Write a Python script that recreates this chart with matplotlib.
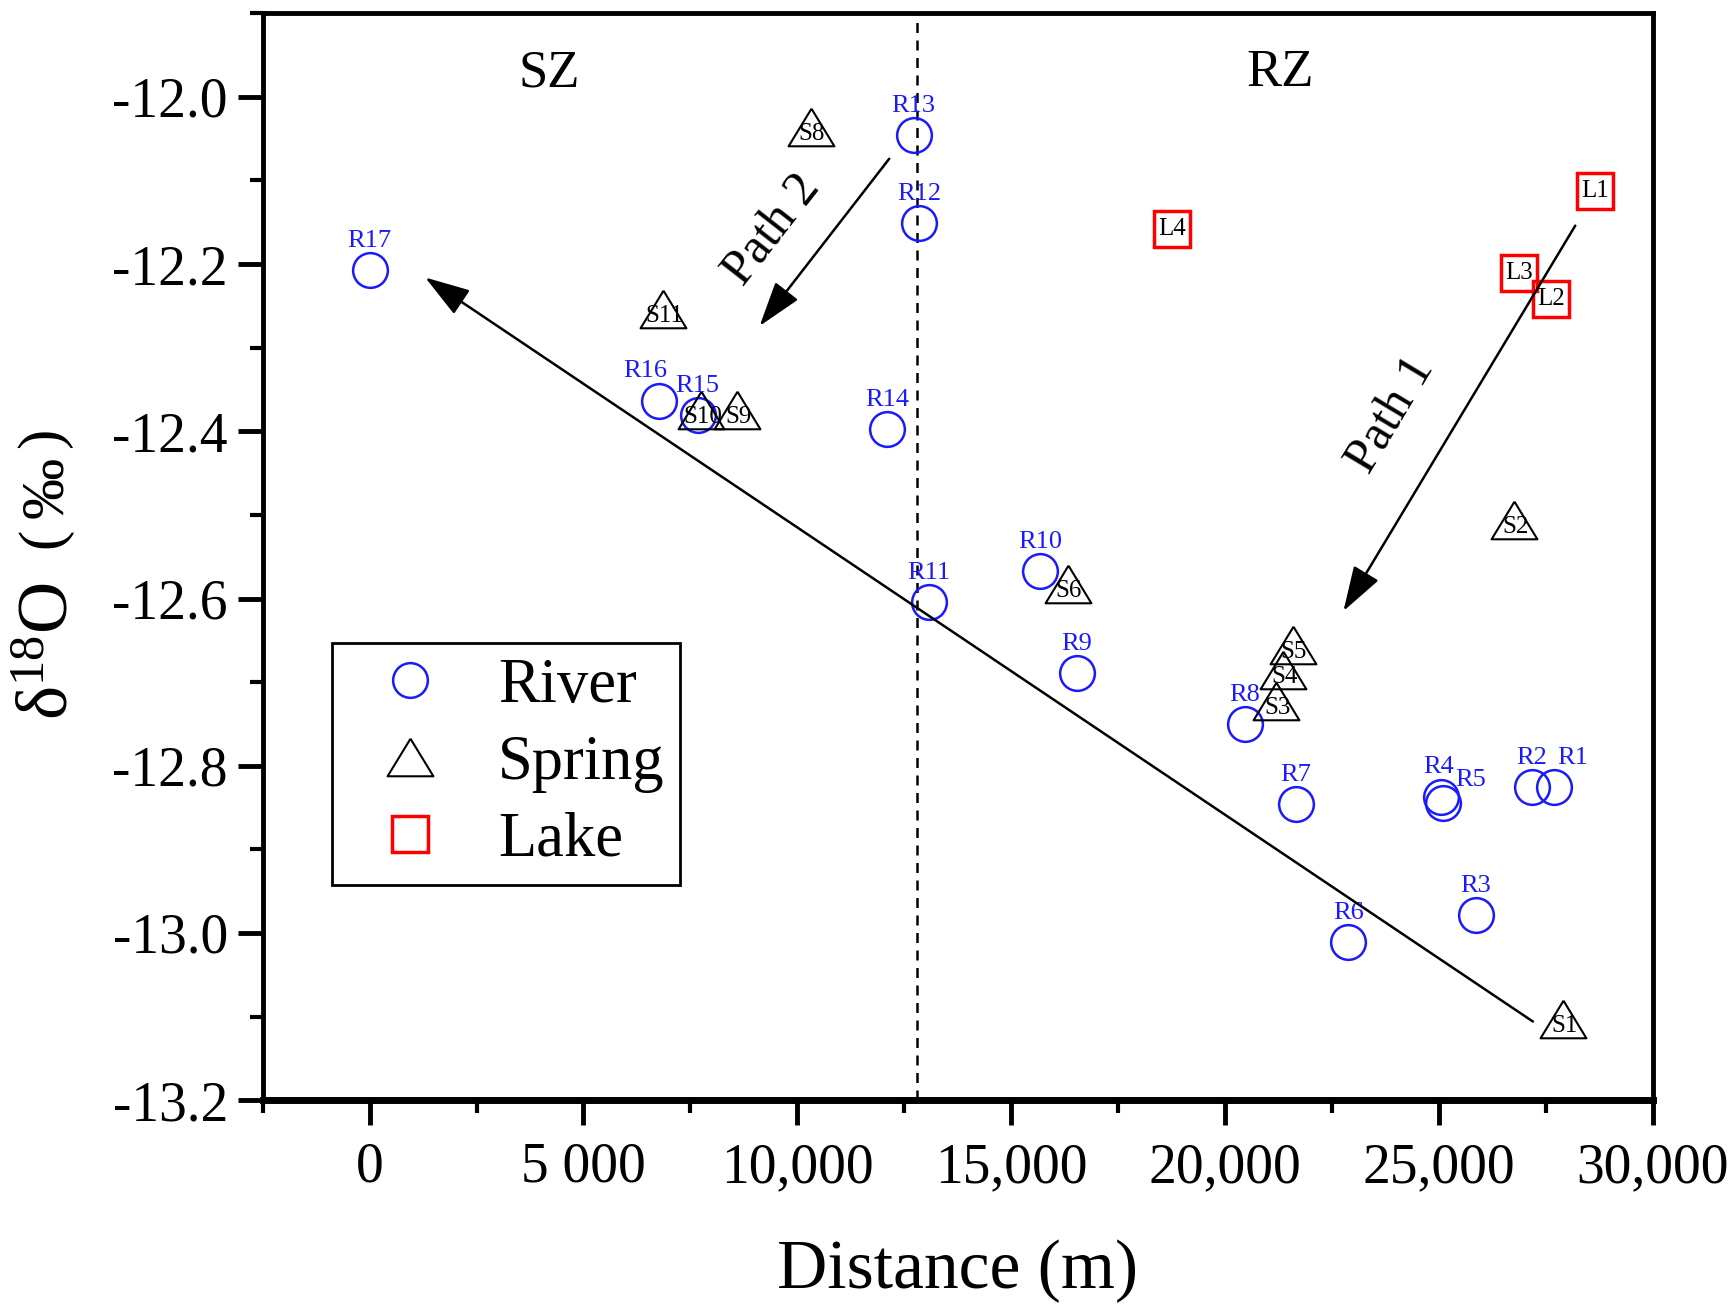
import matplotlib
matplotlib.use("Agg")
import matplotlib.pyplot as plt
from matplotlib.ticker import MultipleLocator, FuncFormatter

plt.rcParams['font.family'] = ['Liberation Serif', 'Noto Sans CJK SC', 'DejaVu Sans']
plt.rcParams['mathtext.fontset'] = 'custom'
plt.rcParams['mathtext.rm'] = 'Liberation Serif'
plt.rcParams['mathtext.it'] = 'Liberation Serif:italic'

# river samples
river_names = ["R1", "R2", "R3", "R4", "R5", "R6", "R7", "R8", "R9", "R10",
               "R11", "R12", "R13", "R14", "R15", "R16", "R17"]
river_x = [27700, 27180, 25860, 25050, 25100, 22880, 21660, 20470, 16530, 15670,
           13080, 12850, 12720, 12100, 7670, 6760, 0]
river_y = [-12.826, -12.826, -12.979, -12.837, -12.845, -13.011, -12.846, -12.750, -12.689, -12.567,
           -12.604, -12.151, -12.046, -12.397, -12.381, -12.364, -12.207]

# spring samples
spring_names = ["S1", "S2", "S3", "S4", "S5", "S6", "S8", "S9", "S10", "S11"]
spring_x = [27900, 26760, 21190, 21350, 21580, 16320, 10310, 8600, 7750, 6870]
spring_y = [-13.103, -12.506, -12.723, -12.686, -12.656, -12.583, -12.036, -12.375, -12.375, -12.254]

# lake samples
lake_names = ["L1", "L2", "L3", "L4"]
lake_x = [28650, 27620, 26870, 18760]
lake_y = [-12.113, -12.242, -12.211, -12.158]

BLUE = "#1a1aff"
RED = "#ff0000"

# label offsets for river points (points)
river_off = {"R1": (13, 21), "R5": (20, 17), "R16": (-10, 22), "R4": (-2, 21)}

tri = [(0, 0.82), (-1, -0.82), (1, -0.82), (0, 0.82)]

fig = plt.figure(figsize=(17.28, 13.15), dpi=100)
ax = fig.add_axes([0.152, 0.1634, 0.8044, 0.8265])

ax.axvline(12800, color="black", linestyle=(0, (4, 3)), linewidth=1.8, zorder=1)

ax.plot(river_x, river_y, linestyle="none", marker="o", markersize=25,
        markerfacecolor="none", markeredgecolor=BLUE, markeredgewidth=1.8,
        label="River", zorder=3)
ax.plot(spring_x, spring_y, linestyle="none", marker=tri, markersize=33,
        markerfacecolor="none", markeredgecolor="black", markeredgewidth=1.5,
        label="Spring", zorder=3)
ax.plot(lake_x, lake_y, linestyle="none", marker="s", markersize=26,
        markerfacecolor="none", markeredgecolor=RED, markeredgewidth=2.5,
        label="Lake", zorder=3)

for n, x, y in zip(river_names, river_x, river_y):
    dx, dy = river_off.get(n, (0, 21))
    ax.annotate(n, (x, y), xytext=(dx, dy), textcoords="offset points",
                ha="center", va="center", fontsize=19, color=BLUE)
for n, x, y in zip(spring_names, spring_x, spring_y):
    ax.annotate(n, (x, y), xytext=(1, -5), textcoords="offset points",
                ha="center", va="center", fontsize=18, color="black")
for n, x, y in zip(lake_names, lake_x, lake_y):
    ax.annotate(n, (x, y), xytext=(0, 0), textcoords="offset points",
                ha="center", va="center", fontsize=18, color="black")

arrow_kw = dict(arrowstyle="-|>,head_length=1.4,head_width=0.45", color="black",
                linewidth=1.8, mutation_scale=20, shrinkA=0, shrinkB=0)
ax.annotate("", xy=(1300, -12.216), xytext=(27200, -13.106), arrowprops=arrow_kw)
ax.annotate("", xy=(9120, -12.274), xytext=(12150, -12.074), arrowprops=arrow_kw)
ax.annotate("", xy=(22770, -12.615), xytext=(28190, -12.154), arrowprops=arrow_kw)

ax.text(9430, -12.160, "Path 2", rotation=52, ha="center", va="center", fontsize=36)
ax.text(23890, -12.381, "Path 1", rotation=59, ha="center", va="center", fontsize=36)

ax.text(4200, -11.972, "SZ", ha="center", va="center", fontsize=38)
ax.text(21300, -11.972, "RZ", ha="center", va="center", fontsize=38)

ax.set_xlim(-2500, 30000)
ax.set_ylim(-13.2, -11.9)
ax.xaxis.set_major_locator(MultipleLocator(5000))
ax.xaxis.set_minor_locator(MultipleLocator(2500))
ax.yaxis.set_major_locator(MultipleLocator(0.2))
ax.yaxis.set_minor_locator(MultipleLocator(0.1))


def xfmt(v, pos):
    if v == 0:
        return "0"
    if v == 5000:
        return "5 000"
    return f"{int(v):,}"


ax.xaxis.set_major_formatter(FuncFormatter(xfmt))
ax.yaxis.set_major_formatter(FuncFormatter(lambda v, p: f"{v:.1f}"))

ax.tick_params(axis="both", which="major", direction="out", length=18, width=3.5,
               labelsize=40, pad=7)
ax.tick_params(axis="both", which="minor", direction="out", length=9.5, width=3)
ax.tick_params(axis="x", which="major", pad=12)
for side in ["top", "right", "left"]:
    ax.spines[side].set_linewidth(3.5)
ax.spines["bottom"].set_linewidth(5)

ax.set_xlabel("Distance (m)", fontsize=50, labelpad=33)

# y label: delta part, then the bracketed unit stacked above it
fig.text(0.029, 0.4525, "δ$^{18}$O", rotation=90, ha="center", va="bottom", fontsize=52)
fig.text(0.0258, 0.5913, "(", rotation=90, ha="center", va="center", fontsize=44)
fig.text(0.0272, 0.6293, "‰", rotation=90, ha="center", va="center", fontsize=44)
fig.text(0.0258, 0.6673, ")", rotation=90, ha="center", va="center", fontsize=44)

leg = ax.legend(loc="upper left", bbox_to_anchor=(0.05, 0.421), borderaxespad=0,
                fontsize=45, frameon=True, fancybox=False, edgecolor="black",
                handletextpad=0.4, borderpad=0.25, labelspacing=0.3,
                handlelength=2.0, markerscale=1.0)
leg.get_frame().set_linewidth(2)
leg.get_frame().set_alpha(1)

fig.savefig("out.png", dpi=100, facecolor="white")
